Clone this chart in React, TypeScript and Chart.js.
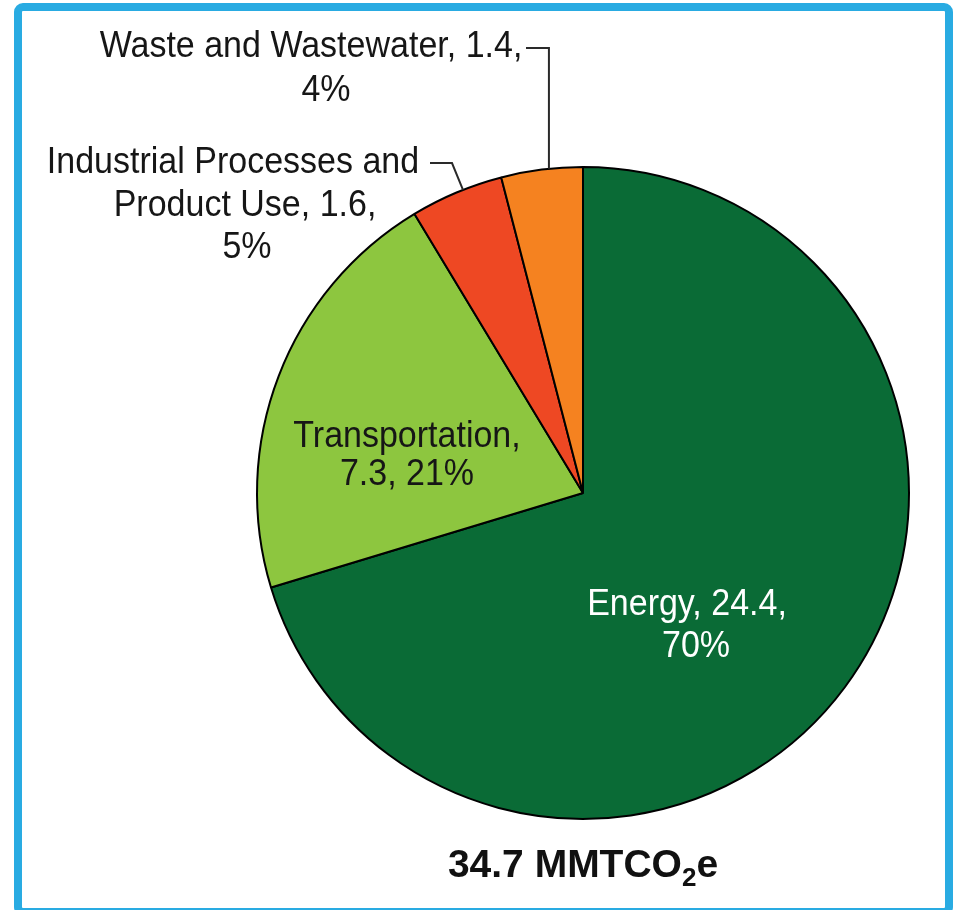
import React, { useEffect, useRef } from "react";
import { Chart, registerables } from "chart.js";

Chart.register(...registerables);

const CATEGORIES = ["Energy", "Transportation", "Industrial Processes and Product Use", "Waste and Wastewater"];
const VALUES = [24.4, 7.3, 1.6, 1.4];
const PERCENTS = ["70%", "21%", "5%", "4%"];
const COLORS = ["#0a6b36", "#8dc63f", "#ee4823", "#f58220"];
const TOTAL = "34.7";
const UNIT_MAIN = "MMTCO";
const UNIT_SUB = "2";
const UNIT_END = "e";

const LABEL_LINES: string[][] = [
  [`${CATEGORIES[0]}, ${VALUES[0]},`, PERCENTS[0]],
  [`${CATEGORIES[1]},`, `${VALUES[1]}, ${PERCENTS[1]}`],
  ["Industrial Processes and", `Product Use, ${VALUES[2]},`, PERCENTS[2]],
  [`${CATEGORIES[3]}, ${VALUES[3]},`, PERCENTS[3]],
];

// label line offsets from pie centre (x centre, baseline)
const LABEL_POS: number[][][] = [
  [[104, 122], [113, 164]],
  [[-176, -46], [-176, -8]],
  [[-350, -320], [-338, -277], [-336, -235]],
  [[-272, -436], [-257, -392]],
];
const LABEL_COLORS = ["#ffffff", "#161616", "#161616", "#161616"];

const FONT = '"Liberation Sans", Arial, Helvetica, sans-serif';

const labelPlugin = {
  id: "pieLabels",
  afterDraw(chart: any) {
    const ctx = chart.ctx as CanvasRenderingContext2D;
    const meta = chart.getDatasetMeta(0);
    const arc0 = meta.data[0];
    const cx = arc0.x;
    const cy = arc0.y;
    const R = arc0.outerRadius;
    ctx.save();
    // leader lines
    ctx.strokeStyle = "#2a2a2a";
    ctx.lineWidth = 2;
    ctx.lineJoin = "miter";
    const pt = (deg: number) => {
      const a = (deg * Math.PI) / 180;
      return [cx + R * Math.sin(a), cy - R * Math.cos(a)];
    };
    // waste
    let p = pt(-6);
    ctx.beginPath();
    ctx.moveTo(p[0], p[1]);
    ctx.lineTo(p[0], cy - 445);
    ctx.lineTo(cx - 57, cy - 445);
    ctx.stroke();
    // industrial
    p = pt(-21.6);
    ctx.beginPath();
    ctx.moveTo(p[0], p[1]);
    ctx.lineTo(cx - 131, cy - 330);
    ctx.lineTo(cx - 153, cy - 330);
    ctx.stroke();

    // labels (slightly tall glyphs like the reference)
    ctx.font = `34px ${FONT}`;
    ctx.textAlign = "center";
    ctx.textBaseline = "alphabetic";
    LABEL_LINES.forEach((lines, i) => {
      ctx.fillStyle = LABEL_COLORS[i];
      lines.forEach((t, j) => {
        const [dx, dy] = LABEL_POS[i][j];
        ctx.save();
        ctx.translate(cx + dx, cy + dy);
        ctx.scale(1, 1.08);
        ctx.fillText(t, 0, 0);
        ctx.restore();
      });
    });

    // total
    const main = `${TOTAL} ${UNIT_MAIN}`;
    ctx.fillStyle = "#111111";
    ctx.textAlign = "left";
    ctx.font = `bold 39px ${FONT}`;
    const w1 = ctx.measureText(main).width;
    const w3 = ctx.measureText(UNIT_END).width;
    ctx.font = `bold 26px ${FONT}`;
    const w2 = ctx.measureText(UNIT_SUB).width;
    const total = w1 + w2 + w3;
    const x0 = cx - total / 2;
    const base = cy + 384;
    ctx.font = `bold 39px ${FONT}`;
    ctx.fillText(main, x0, base);
    ctx.font = `bold 26px ${FONT}`;
    ctx.fillText(UNIT_SUB, x0 + w1, base + 9);
    ctx.font = `bold 39px ${FONT}`;
    ctx.fillText(UNIT_END, x0 + w1 + w2, base);
    ctx.restore();
  },
};

export default function App() {
  const ref = useRef<HTMLCanvasElement>(null);
  useEffect(() => {
    if (!ref.current) return;
    const chart = new Chart(ref.current, {
      type: "pie",
      data: {
        labels: CATEGORIES,
        datasets: [
          {
            data: VALUES,
            backgroundColor: COLORS,
            borderColor: "#000000",
            borderWidth: 2,
            hoverOffset: 0,
            offset: 0,
          },
        ],
      },
      options: {
        responsive: false,
        animation: false,
        events: [],
        layout: { padding: { left: 256, right: 43, top: 166, bottom: 90 } },
        plugins: {
          legend: { display: false },
          tooltip: { enabled: false },
        },
      },
      plugins: [labelPlugin],
    });
    return () => chart.destroy();
  }, []);

  return (
    <div style={{ position: "absolute", left: 0, top: 0, width: 953, height: 910, overflow: "hidden", background: "#ffffff" }}>
      <div
        style={{
          position: "absolute",
          left: 14,
          top: 3,
          width: 939,
          height: 913,
          boxSizing: "border-box",
          border: "8px solid #29abe2",
          borderRadius: 9,
        }}
      />
      <canvas ref={ref} width={953} height={910} style={{ position: "absolute", left: 0, top: 0, width: 953, height: 910 }} />
    </div>
  );
}
